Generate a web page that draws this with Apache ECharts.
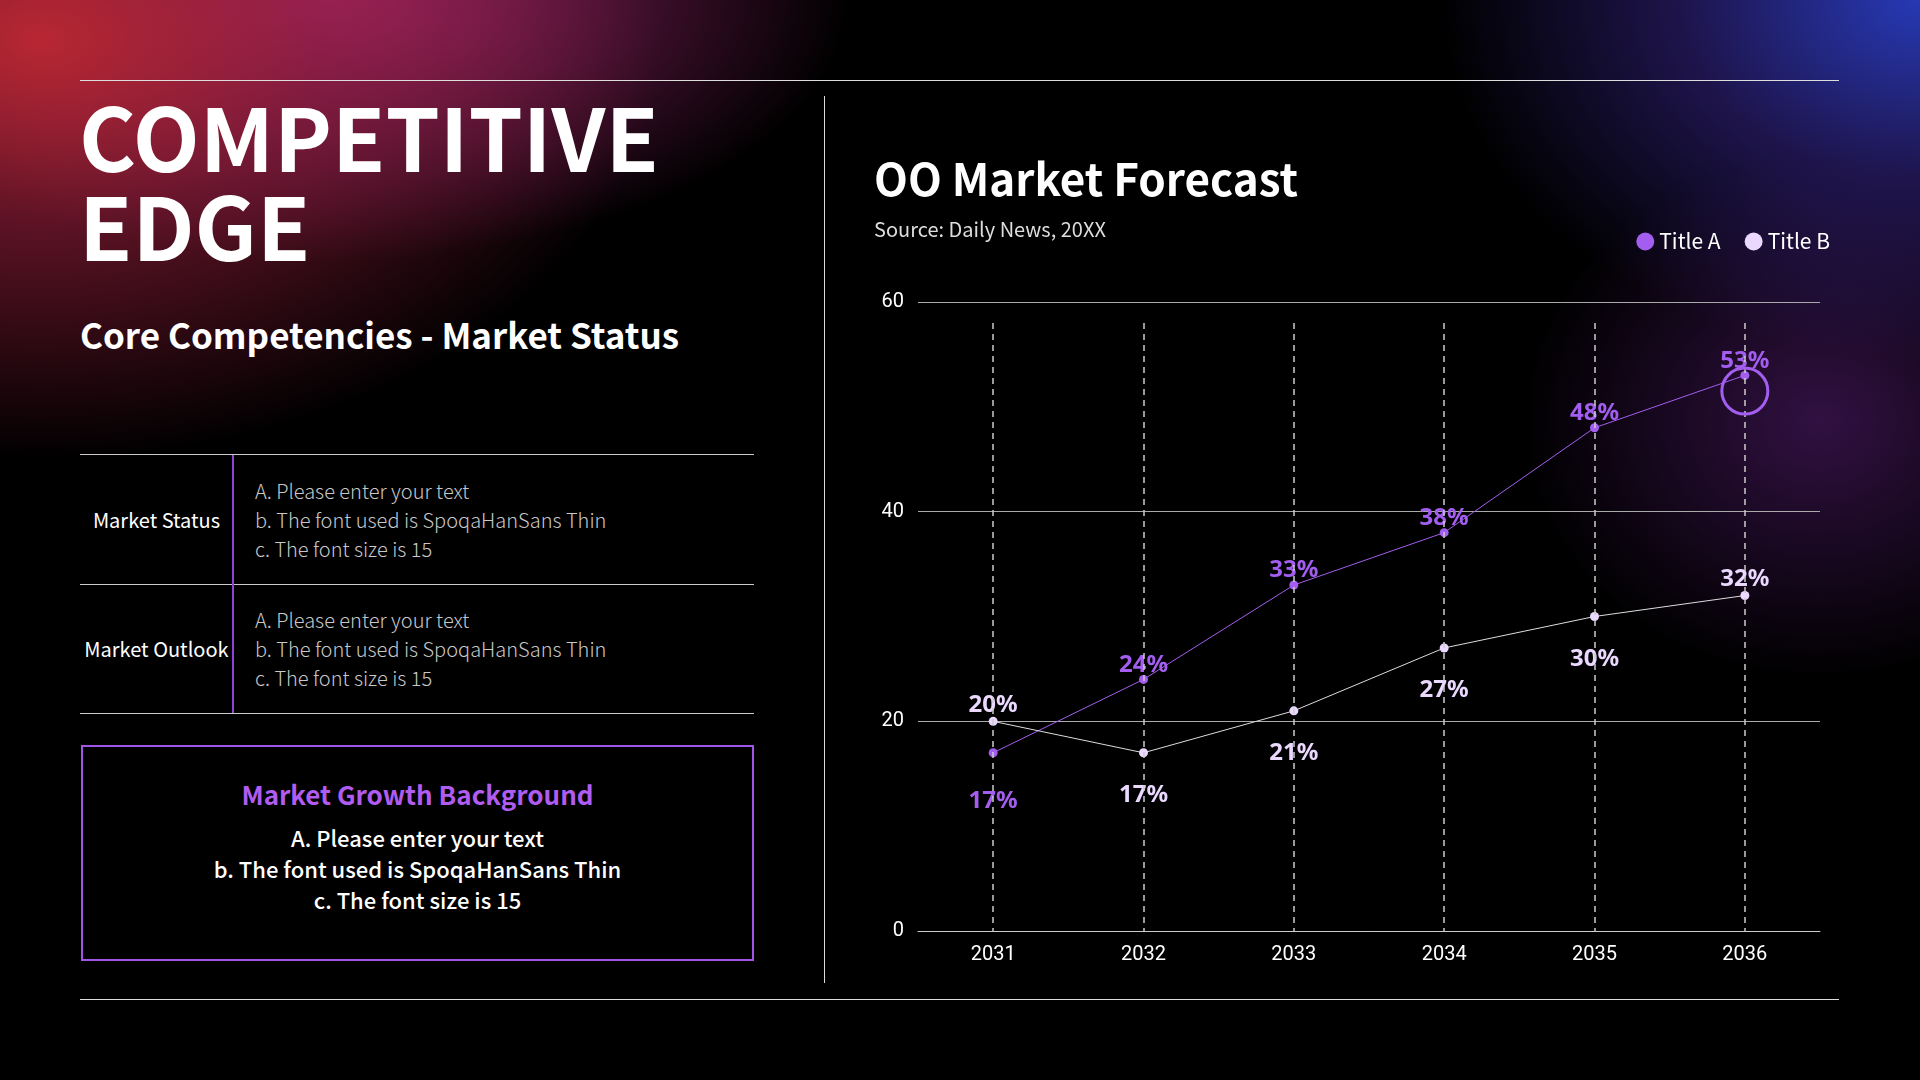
<!DOCTYPE html>
<html><head><meta charset="utf-8">
<script src="https://cdn.jsdelivr.net/npm/echarts@6/dist/echarts.min.js"></script>
<style>
html,body{margin:0;width:1920px;height:1080px;overflow:hidden;background:#000;font-family:"Noto Sans CJK KR","Noto Sans",sans-serif;color:#fff}
#bg{position:absolute;inset:0;background:
radial-gradient(ellipse 620px 420px at 40px 40px,rgba(190,40,50,0.95),rgba(150,30,60,0.6) 45%,rgba(0,0,0,0) 100%),
radial-gradient(ellipse 520px 260px at 330px 0px,rgba(170,40,120,0.9),rgba(0,0,0,0) 100%),
radial-gradient(ellipse 480px 360px at 1920px 0px,rgba(40,60,190,0.95),rgba(60,40,150,0.5) 50%,rgba(0,0,0,0) 100%),
radial-gradient(ellipse 300px 260px at 1820px 420px,rgba(90,30,120,0.55),rgba(0,0,0,0) 100%);}
.abs{position:absolute}
.hl{position:absolute;height:1px;background:#ddd}
#chart{position:absolute;left:825px;top:0;width:1095px;height:1080px}
</style></head><body>
<div id="bg"></div>
<div class="hl" style="left:80px;width:1759px;top:80px"></div>
<div class="hl" style="left:80px;width:1759px;top:999px"></div>
<div class="abs" style="left:824px;top:96px;width:1px;height:887px;background:#ddd"></div>
<div class="abs" style="left:79px;top:90px;font-size:87px;font-weight:700;line-height:89px;letter-spacing:0px">COMPETITIVE<br>EDGE</div>
<div class="abs" style="left:80px;top:308px;font-size:35px;font-weight:700">Core Competencies - Market Status</div>
<div class="hl" style="left:80px;width:674px;top:454px;background:#ccc"></div>
<div class="hl" style="left:80px;width:674px;top:584px;background:#ccc"></div>
<div class="hl" style="left:80px;width:674px;top:713px;background:#ccc"></div>
<div class="abs" style="left:232px;top:455px;width:2px;height:258px;background:#8e44d8"></div>
<div class="abs" style="left:80px;width:153px;top:505px;text-align:center;font-size:20px">Market Status</div>
<div class="abs" style="left:80px;width:153px;top:634px;text-align:center;font-size:20px">Market Outlook</div>
<div class="abs" style="left:255px;top:476px;font-size:20px;line-height:29px;color:#c8c8c8;font-weight:300">A. Please enter your text<br>b. The font used is SpoqaHanSans Thin<br>c. The font size is 15</div>
<div class="abs" style="left:255px;top:605px;font-size:20px;line-height:29px;color:#c8c8c8;font-weight:300">A. Please enter your text<br>b. The font used is SpoqaHanSans Thin<br>c. The font size is 15</div>
<div class="abs" style="left:81px;top:745px;width:669px;height:212px;border:2px solid #a055e8;text-align:center">
<div style="margin-top:28px;font-size:26px;font-weight:700;color:#b05cf0">Market Growth Background</div>
<div style="margin-top:10px;font-size:22px;line-height:31px;font-weight:500">A. Please enter your text<br>b. The font used is SpoqaHanSans Thin<br>c. The font size is 15</div>
</div>
<div id="chart"></div>
<script>
const categories=['2031','2032','2033','2034','2035','2036'];
const titleA=[17,24,33,38,48,53];
const titleB=[20,17,21,27,30,32];
const yTicks=[0,20,40,60];
const cA='#a35ef0', cB='#ead8ff';
const posA=['bottom','top','top','top','top','top'];
const posB=['top','bottom','bottom','bottom','bottom','top'];
const ch=echarts.init(document.getElementById('chart'));
ch.setOption({
 backgroundColor:'transparent',
 title:{text:'OO Market Forecast',subtext:'Source: Daily News, 20XX',left:44,top:152,
  textStyle:{color:'#fff',fontSize:44,fontWeight:'bold',fontFamily:'Noto Sans CJK KR'},
  subtextStyle:{color:'#ddd',fontSize:20,fontFamily:'Noto Sans CJK KR'},itemGap:18},
 legend:{right:85,top:226,icon:'circle',itemWidth:18,itemHeight:18,itemGap:24,
  textStyle:{color:'#fff',fontSize:21,fontFamily:'Noto Sans CJK KR'},data:['Title A','Title B']},
 grid:{left:93,right:100,top:302,bottom:149},
 xAxis:{type:'category',data:categories,axisTick:{show:false},axisLine:{lineStyle:{color:'#ccc'}},
  axisLabel:{color:'#fff',fontSize:20,margin:14,fontFamily:'Roboto'}},
 yAxis:{type:'value',min:0,max:60,interval:20,axisLine:{show:false},
  splitLine:{lineStyle:{color:'#aaa',width:1}},
  axisLabel:{color:'#fff',fontSize:20,margin:14,fontFamily:'Roboto',formatter:v=>yTicks.includes(v)?v:''}},
 series:[
  {name:'Title A',type:'line',data:titleA.map((v,i)=>({value:v,label:{position:posA[i],distance:i==0?32:-2}})),
   color:cA,symbol:'circle',symbolSize:9,lineStyle:{width:1,color:cA},z:3,
   label:{show:true,formatter:'{c}%',color:cA,fontSize:24,fontWeight:'bold',fontFamily:'Noto Sans'},
   markLine:{silent:true,symbol:'none',label:{show:false},lineStyle:{color:'#ccc',type:[6,5],width:1.5},
    data:categories.map(c=>[{coord:[c,58]},{coord:[c,0]}])},
   markPoint:{symbol:'circle',symbolSize:46,itemStyle:{color:'rgba(0,0,0,0)',borderColor:cA,borderWidth:3},label:{show:false},
    data:[{coord:['2036',51.5]}]}},
  {name:'Title B',type:'line',data:titleB.map((v,i)=>({value:v,label:{position:posB[i],distance:i>0&&i<5?26:0}})),
   color:cB,symbol:'circle',symbolSize:9,lineStyle:{width:1,color:'#ddd'},z:3,
   label:{show:true,formatter:'{c}%',color:cB,fontSize:24,fontWeight:'bold',fontFamily:'Noto Sans'}}
 ]
});
</script>
</body></html>
